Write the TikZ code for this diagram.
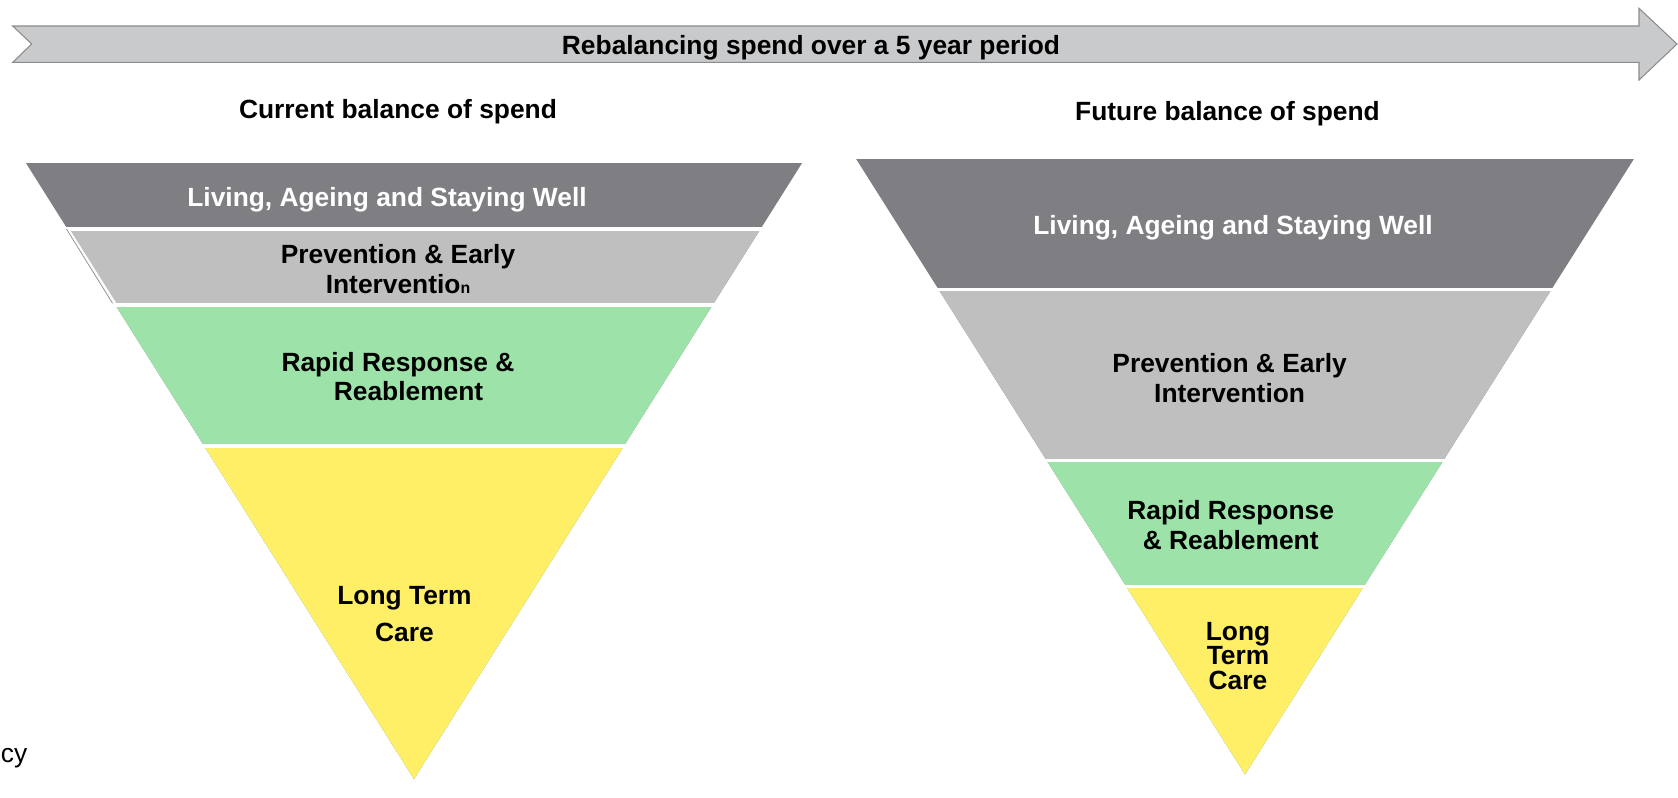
\documentclass[tikz,border=0pt]{standalone}
\usepackage{fontspec}
\setmainfont{Liberation Sans}
\usepackage{tikz}
\usetikzlibrary{positioning}

\definecolor{bandDark}{RGB}{127,126,131}
\definecolor{bandGrey}{RGB}{191,191,191}
\definecolor{bandGreen}{RGB}{157,227,169}
\definecolor{bandYellow}{RGB}{255,239,102}
\definecolor{arrowFill}{RGB}{201,202,204}
\definecolor{arrowLine}{RGB}{140,140,140}

\tikzset{
    tiertext/.style={font=\bfseries\fontsize{15}{17}\selectfont, align=center, inner sep=0pt},
    heading/.style={font=\bfseries\fontsize{15}{17}\selectfont, inner sep=0pt},
    gap/.style={white, line width=1.9pt}
}

\begin{document}
\begin{tikzpicture}[x=0.2mm, y=-0.2mm]
    \useasboundingbox (0,0) rectangle (1678,797);

    % Time arrow
    \draw[fill=arrowFill, draw=arrowLine, line width=0.6pt]
        (12.7,26) -- (1639,26) -- (1639,8.3) -- (1677,44) -- (1639,80)
        -- (1639,62.3) -- (12.7,62.3) -- (31.7,44) -- cycle;
    \node[heading] (period) at (811,47.5) {Rebalancing spend over a 5 year period};

    % Current funnel
    \node[heading] (current) at (398,112) {Current balance of spend};
    \foreach \top/\col in {163/bandDark, 230.5/bandGrey, 306.5/bandGreen, 447.5/bandYellow}
        \fill[\col] ({414-0.63*(779-\top)},\top) -- ({414+0.63*(779-\top)},\top) -- (414,779) -- cycle;
    \foreach \y in {229, 305, 446}
        \draw[gap] (10,\y) -- (820,\y);
    \draw[arrowLine, line width=0.4pt] (66.5,229) -- (112.5,303.3);
    \draw[white, line width=1.1pt] (69.6,231) -- (115.2,303.3);

    \node[tiertext, white] (livingA) at (387,199.5) {Living, Ageing and Staying Well};
    \node[tiertext] (preventA) at (398,269.5) {Prevention \& Early\\Interventio{\fontsize{9}{9}\selectfont n}};
    \node[tiertext] (rapidA) at (398,376.5) {Rapid Response \&\\\hspace*{0.8em}Reablement};
    \node[tiertext] (longA) at (404.5,614) {Long Term\\[3.8pt]Care};

    % Future funnel
    \node[heading] (future) at (1227.5,114) {Future balance of spend};
    \foreach \top/\col in {159/bandDark, 291/bandGrey, 461.7/bandGreen, 587.7/bandYellow}
        \fill[\col] ({1245-0.632*(774.3-\top)},\top) -- ({1245+0.632*(774.3-\top)},\top) -- (1245,774.3) -- cycle;
    \foreach \y in {289.3, 460.3, 586.3}
        \draw[gap] (840,\y) -- (1660,\y);

    \node[tiertext, white] (livingB) at (1233,228) {Living, Ageing and Staying Well};
    \node[tiertext] (preventB) at (1229.6,378) {Prevention \& Early\\Intervention};
    \node[tiertext] (rapidB) at (1230.7,525) {Rapid Response\\\& Reablement};
    \node[tiertext] (longB) at (1238,656) {Long\\[-3pt]Term\\[-3pt]Care};

    % clipped word at the edge
    \node[font=\fontsize{15}{17}\selectfont, anchor=base west, inner sep=0pt] (cut) at (0.5,762) {cy};
\end{tikzpicture}
\end{document}
